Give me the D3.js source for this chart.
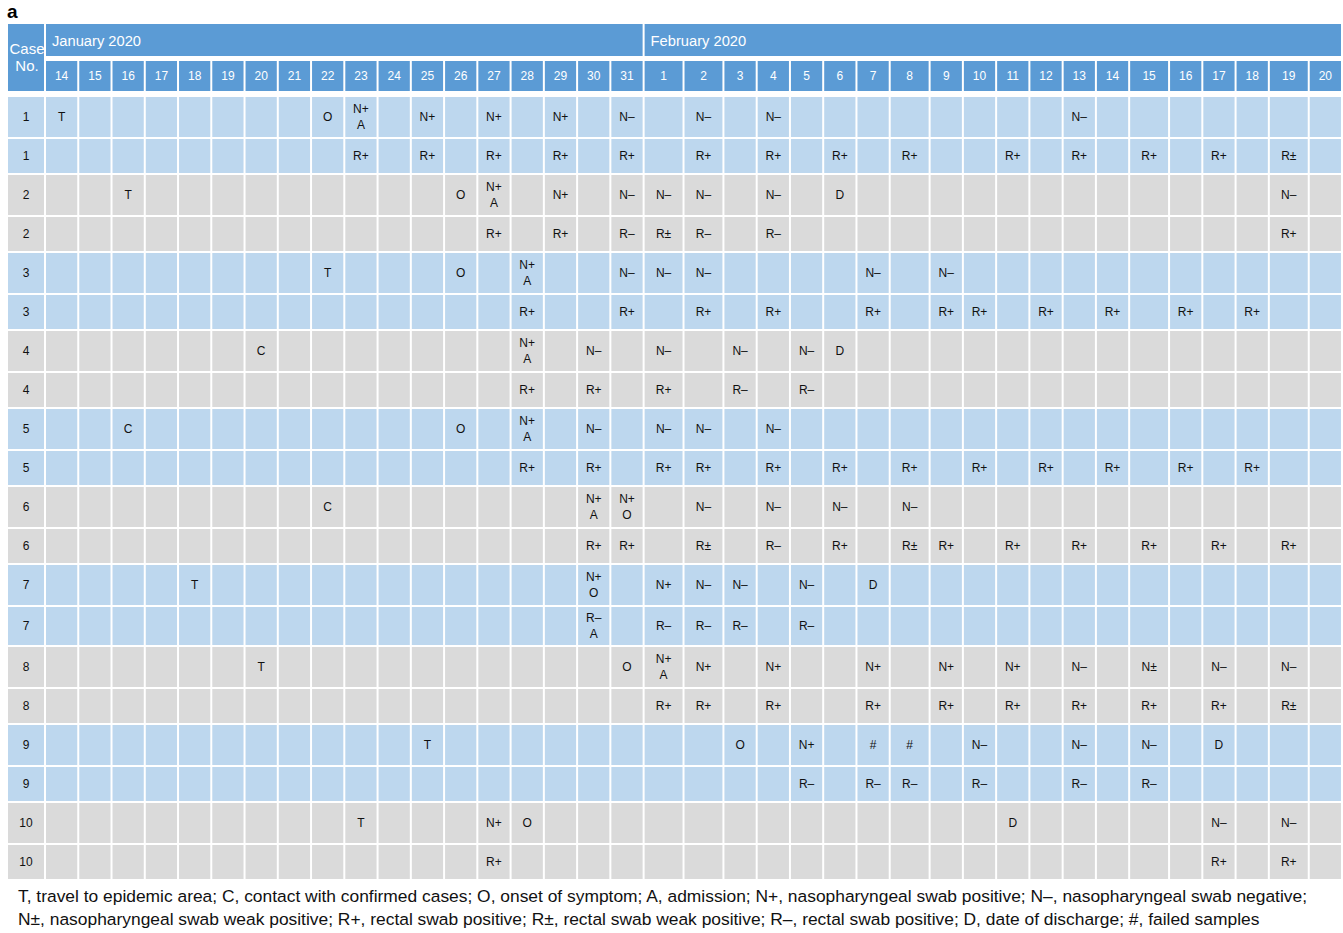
<!DOCTYPE html>
<html>
<head>
<meta charset="utf-8">
<script src="https://cdn.jsdelivr.net/npm/d3@7"></script>
<style>
  html, body { margin: 0; padding: 0; background: #ffffff; }
  svg { display: block; font-family: "Liberation Sans", Arial, Helvetica, sans-serif; }
</style>
</head>
<body>
<svg id="chart" width="1343" height="933"></svg>
<script>
// ---------------- DATA ----------------
const panelLabel = "a";
const caseHeader = ["Case", "No."];
const months = ["January 2020", "February 2020"];
const januaryDays = ["14","15","16","17","18","19","20","21","22","23","24","25","26","27","28","29","30","31"];
const februaryDays = ["1","2","3","4","5","6","7","8","9","10","11","12","13","14","15","16","17","18","19","20"];
const caseNumbers = [1, 2, 3, 4, 5, 6, 7, 8, 9, 10];

// Nasopharyngeal / event row of each case: [date, label]  ("\n" = second line)
const nasopharyngealRows = [
  [["Jan 14","T"],["Jan 22","O"],["Jan 23","N+\nA"],["Jan 25","N+"],["Jan 27","N+"],["Jan 29","N+"],["Jan 31","N–"],["Feb 2","N–"],["Feb 4","N–"],["Feb 13","N–"]],
  [["Jan 16","T"],["Jan 26","O"],["Jan 27","N+\nA"],["Jan 29","N+"],["Jan 31","N–"],["Feb 1","N–"],["Feb 2","N–"],["Feb 4","N–"],["Feb 6","D"],["Feb 19","N–"]],
  [["Jan 22","T"],["Jan 26","O"],["Jan 28","N+\nA"],["Jan 31","N–"],["Feb 1","N–"],["Feb 2","N–"],["Feb 7","N–"],["Feb 9","N–"]],
  [["Jan 20","C"],["Jan 28","N+\nA"],["Jan 30","N–"],["Feb 1","N–"],["Feb 3","N–"],["Feb 5","N–"],["Feb 6","D"]],
  [["Jan 16","C"],["Jan 26","O"],["Jan 28","N+\nA"],["Jan 30","N–"],["Feb 1","N–"],["Feb 2","N–"],["Feb 4","N–"]],
  [["Jan 22","C"],["Jan 30","N+\nA"],["Jan 31","N+\nO"],["Feb 2","N–"],["Feb 4","N–"],["Feb 6","N–"],["Feb 8","N–"]],
  [["Jan 18","T"],["Jan 30","N+\nO"],["Feb 1","N+"],["Feb 2","N–"],["Feb 3","N–"],["Feb 5","N–"],["Feb 7","D"]],
  [["Jan 20","T"],["Jan 31","O"],["Feb 1","N+\nA"],["Feb 2","N+"],["Feb 4","N+"],["Feb 7","N+"],["Feb 9","N+"],["Feb 11","N+"],["Feb 13","N–"],["Feb 15","N±"],["Feb 17","N–"],["Feb 19","N–"]],
  [["Jan 25","T"],["Feb 3","O"],["Feb 5","N+"],["Feb 7","#"],["Feb 8","#"],["Feb 10","N–"],["Feb 13","N–"],["Feb 15","N–"],["Feb 17","D"]],
  [["Jan 23","T"],["Jan 27","N+"],["Jan 28","O"],["Feb 11","D"],["Feb 17","N–"],["Feb 19","N–"]]
];

// Rectal swab row of each case
const rectalRows = [
  [["Jan 23","R+"],["Jan 25","R+"],["Jan 27","R+"],["Jan 29","R+"],["Jan 31","R+"],["Feb 2","R+"],["Feb 4","R+"],["Feb 6","R+"],["Feb 8","R+"],["Feb 11","R+"],["Feb 13","R+"],["Feb 15","R+"],["Feb 17","R+"],["Feb 19","R±"]],
  [["Jan 27","R+"],["Jan 29","R+"],["Jan 31","R–"],["Feb 1","R±"],["Feb 2","R–"],["Feb 4","R–"],["Feb 19","R+"]],
  [["Jan 28","R+"],["Jan 31","R+"],["Feb 2","R+"],["Feb 4","R+"],["Feb 7","R+"],["Feb 9","R+"],["Feb 10","R+"],["Feb 12","R+"],["Feb 14","R+"],["Feb 16","R+"],["Feb 18","R+"]],
  [["Jan 28","R+"],["Jan 30","R+"],["Feb 1","R+"],["Feb 3","R–"],["Feb 5","R–"]],
  [["Jan 28","R+"],["Jan 30","R+"],["Feb 1","R+"],["Feb 2","R+"],["Feb 4","R+"],["Feb 6","R+"],["Feb 8","R+"],["Feb 10","R+"],["Feb 12","R+"],["Feb 14","R+"],["Feb 16","R+"],["Feb 18","R+"]],
  [["Jan 30","R+"],["Jan 31","R+"],["Feb 2","R±"],["Feb 4","R–"],["Feb 6","R+"],["Feb 8","R±"],["Feb 9","R+"],["Feb 11","R+"],["Feb 13","R+"],["Feb 15","R+"],["Feb 17","R+"],["Feb 19","R+"]],
  [["Jan 30","R–\nA"],["Feb 1","R–"],["Feb 2","R–"],["Feb 3","R–"],["Feb 5","R–"]],
  [["Feb 1","R+"],["Feb 2","R+"],["Feb 4","R+"],["Feb 7","R+"],["Feb 9","R+"],["Feb 11","R+"],["Feb 13","R+"],["Feb 15","R+"],["Feb 17","R+"],["Feb 19","R±"]],
  [["Feb 5","R–"],["Feb 7","R–"],["Feb 8","R–"],["Feb 10","R–"],["Feb 13","R–"],["Feb 15","R–"]],
  [["Jan 27","R+"],["Feb 17","R+"],["Feb 19","R+"]]
];

const legendLines = [
  "T, travel to epidemic area; C, contact with confirmed cases; O, onset of symptom; A, admission; N+, nasopharyngeal swab positive; N–, nasopharyngeal swab negative;",
  "N±, nasopharyngeal swab weak positive; R+, rectal swab positive; R±, rectal swab weak positive; R–, rectal swab positive; D, date of discharge; #, failed samples"
];

// ---------------- LAYOUT ----------------
const headerBlue = "#5b9bd5";
const rowFills = ["#bdd7ee", "#dadada"];
const gap = 2;

const svg = d3.select("#chart");

const columns = [
  ...januaryDays.map(d => ({ month: 0, key: "Jan " + d, label: d })),
  ...februaryDays.map(d => ({ month: 1, key: "Feb " + d, label: d }))
];

const rows = [];
caseNumbers.forEach((c, i) => {
  rows.push({ caseNo: c, kind: "N", entries: nasopharyngealRows[i], fill: rowFills[i % 2] });
  rows.push({ caseNo: c, kind: "R", entries: rectalRows[i], fill: rowFills[i % 2] });
});

// columns holding a "±" entry are drawn wider
const allEntries = rows.flatMap(r => r.entries);
columns.forEach(col => {
  const wide = allEntries.some(e => e[0] === col.key && e[1].includes("±"));
  col.weight = wide ? 1.2 : 1;
});
const colEnds = Array.from(d3.cumsum(columns, c => c.weight));
columns.forEach((c, i) => { c.start = i === 0 ? 0 : colEnds[i - 1]; c.end = colEnds[i]; });
const x = d3.scaleLinear().domain([0, colEnds[colEnds.length - 1]]).range([46, 1343]);
const colByKey = new Map(columns.map(c => [c.key, c]));

// row pitch: event/nasopharyngeal rows taller, rectal rows shorter unless two-line
rows.forEach(r => {
  const twoLine = r.entries.some(e => e[1].includes("\n"));
  r.weight = r.kind === "N" ? 42 : (twoLine ? 40 : 36);
});
const rowEnds = Array.from(d3.cumsum(rows, r => r.weight));
rows.forEach((r, i) => { r.start = i === 0 ? 0 : rowEnds[i - 1]; r.end = rowEnds[i]; });
const y = d3.scaleLinear().domain([0, rowEnds[rowEnds.length - 1]]).range([97, 97 + rowEnds[rowEnds.length - 1]]);

const caseX0 = 8, caseX1 = 44;

// panel label
svg.append("text").attr("x", 7).attr("y", 18)
  .attr("font-size", 19).attr("font-weight", "bold").attr("fill", "#000")
  .text(panelLabel);

// ---- header ----
const header = svg.append("g");
header.append("rect").attr("x", caseX0).attr("y", 24).attr("width", caseX1 - caseX0).attr("height", 67).attr("fill", headerBlue);
header.selectAll("text.caseh").data(caseHeader).join("text")
  .attr("class", "caseh")
  .attr("x", (caseX0 + caseX1) / 2 + 1)
  .attr("y", (d, i) => 48 + i * 17)
  .attr("text-anchor", "middle").attr("dominant-baseline", "central")
  .attr("font-size", 15).attr("fill", "#fff").text(d => d);

const monthSpans = months.map((m, i) => {
  const cols = columns.filter(c => c.month === i);
  return { label: m, start: cols[0].start, end: cols[cols.length - 1].end };
});
header.selectAll("rect.month").data(monthSpans).join("rect")
  .attr("class", "month")
  .attr("x", d => x(d.start)).attr("y", 24)
  .attr("width", d => x(d.end) - x(d.start) - gap)
  .attr("height", 32).attr("fill", headerBlue);
header.selectAll("text.month").data(monthSpans).join("text")
  .attr("class", "month")
  .attr("x", d => x(d.start) + 6).attr("y", 41)
  .attr("dominant-baseline", "central")
  .attr("font-size", 14.7).attr("fill", "#fff").text(d => d.label);

header.selectAll("rect.day").data(columns).join("rect")
  .attr("class", "day")
  .attr("x", d => x(d.start)).attr("y", 61)
  .attr("width", d => x(d.end) - x(d.start) - gap).attr("height", 30)
  .attr("fill", headerBlue);
header.selectAll("text.day").data(columns).join("text")
  .attr("class", "day")
  .attr("x", d => (x(d.start) + x(d.end) - gap) / 2).attr("y", 76)
  .attr("text-anchor", "middle").attr("dominant-baseline", "central")
  .attr("font-size", 12).attr("fill", "#fff").text(d => d.label);

// ---- body ----
const body = svg.append("g");
const rowG = body.selectAll("g.row").data(rows).join("g").attr("class", "row");

rowG.append("rect")
  .attr("x", caseX0).attr("y", d => y(d.start))
  .attr("width", caseX1 - caseX0).attr("height", d => y(d.end) - y(d.start) - gap)
  .attr("fill", d => d.fill);
rowG.append("text")
  .attr("x", (caseX0 + caseX1) / 2).attr("y", d => (y(d.start) + y(d.end) - gap) / 2)
  .attr("text-anchor", "middle").attr("dominant-baseline", "central")
  .attr("font-size", 12).attr("fill", "#111").text(d => d.caseNo);

rowG.each(function(r) {
  const g = d3.select(this);
  g.selectAll("rect.cell").data(columns).join("rect")
    .attr("class", "cell")
    .attr("x", c => x(c.start)).attr("y", y(r.start))
    .attr("width", c => x(c.end) - x(c.start) - gap)
    .attr("height", y(r.end) - y(r.start) - gap)
    .attr("fill", r.fill);
  const midY = (y(r.start) + y(r.end) - gap) / 2;
  const t = g.selectAll("text.entry").data(r.entries).join("text")
    .attr("class", "entry")
    .attr("x", e => { const c = colByKey.get(e[0]); return (x(c.start) + x(c.end) - gap) / 2; })
    .attr("text-anchor", "middle")
    .attr("font-size", 12).attr("fill", "#111");
  t.each(function(e) {
    const lines = e[1].split("\n");
    d3.select(this).selectAll("tspan").data(lines).join("tspan")
      .attr("x", d3.select(this).attr("x"))
      .attr("y", (l, i) => midY + (i - (lines.length - 1) / 2) * 16)
      .attr("dominant-baseline", "central")
      .text(l => l);
  });
});

// ---- legend / footnote ----
svg.selectAll("text.legend").data(legendLines).join("text")
  .attr("class", "legend")
  .attr("x", 18).attr("y", (d, i) => 896 + i * 23)
  .attr("dominant-baseline", "central")
  .attr("font-size", 17.4).attr("fill", "#111").text(d => d);
</script>
</body>
</html>
